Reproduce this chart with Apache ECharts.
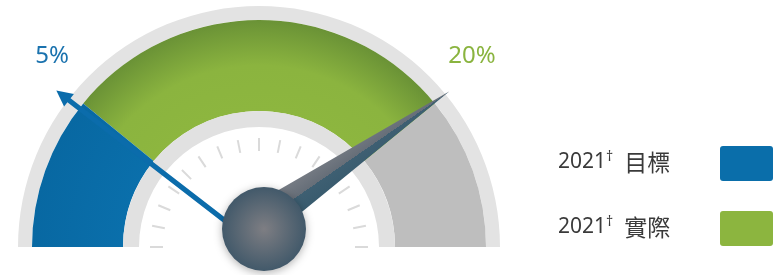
<!DOCTYPE html>
<html>
<head>
<meta charset="utf-8">
<script src="https://cdn.jsdelivr.net/npm/echarts@6/dist/echarts.min.js"></script>
<style>
  html, body { margin: 0; padding: 0; background: #fff; }
  #chart { width: 783px; height: 275px; }
</style>
</head>
<body>
<div id="chart"></div>
<script>
// == Data ====================================================================

const seriesNames = ['2021† 目標', '2021† 實際']
const legendYears = ['2021', '2021']
const legendLabels = ['目標', '實際']
const targetValue = [5]
const actualValue = [20]
const scaleMin = -0.8
const scaleMax = 25.8

// == Styles ==================================================================

const BLUE = '#0a6eaa'
const GREEN = '#8cb53f'
const GREY = '#bebebe'
const FONT = '"Noto Sans", "Noto Sans CJK TC", sans-serif'
const CJK = '"Noto Sans CJK TC", "Noto Sans", sans-serif'
const CX = 259
const CY = 247

const pos = v => (v - scaleMin) / (scaleMax - scaleMin)

// arrow and needle shapes (tiny corner specks keep the path box symmetric)
const ARROW = 'path://M13 0 L21.4 15.8 L16 15.9 L22.6 256 L17.4 256 L10.8 16.1 L5.4 16.2 Z' +
  ' M0 256 L0.05 256 L0 255.95 Z M40 0 L39.95 0 L40 0.05 Z'
const NEEDLE = 'path://M40 0 L40 246 L0 246 Z M80 246 L79.95 246 L80 245.95 Z M0 0 L0.05 0 L0 0.05 Z'

const greenFill = {
  type: 'radial', x: CX, y: CY, r: 227, global: true,
  colorStops: [
    {offset: 0.6, color: '#8db63f'},
    {offset: 0.8, color: '#8bb43f'},
    {offset: 1, color: '#6a9236'}
  ]
}
const blueFill = {
  type: 'radial', x: CX, y: CY, r: 227, global: true,
  colorStops: [
    {offset: 0.6, color: '#0a6fab'},
    {offset: 1, color: '#0868a2'}
  ]
}

const hidden = {
  axisLine: {show: false},
  axisTick: {show: false},
  splitLine: {show: false},
  axisLabel: {show: false},
  pointer: {show: false},
  anchor: {show: false},
  title: {show: false},
  detail: {show: false}
}

const base = {
  type: 'gauge',
  center: [CX, CY],
  startAngle: 180,
  endAngle: 0,
  min: scaleMin,
  max: scaleMax,
  silent: true
}

const chart = echarts.init(document.getElementById('chart'))

chart.setOption({
  animation: false,
  series: [
    // outer rim
    Object.assign({}, base, hidden, {
      radius: 241,
      axisLine: {show: true, lineStyle: {width: 14, color: [[1, '#e3e3e3']]}},
      data: [{value: scaleMin}]
    }),
    // coloured band
    Object.assign({}, base, hidden, {
      radius: 227,
      axisLine: {
        show: true,
        lineStyle: {
          width: 91,
          color: [[pos(targetValue[0]), blueFill], [pos(actualValue[0]), greenFill], [1, GREY]]
        }
      },
      data: [{value: scaleMin}]
    }),
    // inner ring + dial ticks
    Object.assign({}, base, hidden, {
      radius: 136,
      splitNumber: 16,
      axisLine: {show: true, lineStyle: {width: 16, color: [[1, '#e1e1e1']]}},
      splitLine: {show: true, length: 13, distance: 11, lineStyle: {color: '#dadada', width: 2}},
      data: [{value: scaleMin}]
    }),
    // target arrow
    Object.assign({}, base, hidden, {
      name: seriesNames[0],
      radius: 240,
      pointer: {
        show: true,
        icon: ARROW,
        length: 256,
        width: 40,
        keepAspect: false,
        itemStyle: {color: '#0b6cab'}
      },
      detail: {
        show: true,
        formatter: '{value}%',
        offsetCenter: [-207, -191],
        color: '#1a72ae',
        fontSize: 24,
        fontWeight: 'normal',
        fontFamily: FONT
      },
      data: [{value: targetValue[0]}]
    }),
    // actual needle + knob
    Object.assign({}, base, hidden, {
      name: seriesNames[1],
      radius: 240,
      pointer: {
        show: true,
        icon: NEEDLE,
        length: 246,
        width: 80,
        keepAspect: false,
        itemStyle: {
          color: {
            type: 'linear', x: 0, y: 0, x2: 1, y2: 0.0264,
            colorStops: [
              {offset: 0, color: '#8e9096'},
              {offset: 0.497, color: '#666e78'},
              {offset: 0.497, color: '#3e5f72'},
              {offset: 1, color: '#2f5467'}
            ]
          }
        }
      },
      anchor: {
        show: true,
        showAbove: true,
        size: 84,
        offsetCenter: [5, -18],
        itemStyle: {
          color: {
            type: 'radial', x: 0.5, y: 0.5, r: 0.5,
            colorStops: [
              {offset: 0, color: '#7e7e83'},
              {offset: 1, color: '#42596a'}
            ]
          },
          shadowBlur: 8,
          shadowColor: 'rgba(0,0,0,0.3)',
          shadowOffsetY: 2
        }
      },
      detail: {
        show: true,
        formatter: '{value}%',
        offsetCenter: [213, -191],
        color: '#8ab43f',
        fontSize: 24,
        fontWeight: 'normal',
        fontFamily: FONT
      },
      data: [{value: actualValue[0]}]
    })
  ],
  // legend, right hand side
  graphic: seriesNames.map((name, i) => [
    {
      type: 'text',
      left: 558,
      top: 150 + i * 65,
      style: {
        text: '{y|' + legendYears[i] + '}{s|†}{c|' + legendLabels[i] + '}',
        fill: '#3a3a3a',
        rich: {
          y: {fontSize: 21, fontFamily: FONT, fill: '#3a3a3a'},
          s: {fontSize: 14, fontFamily: FONT, fill: '#3a3a3a', padding: [0, 11, 10, 0]},
          c: {fontSize: 23, fontFamily: CJK, fill: '#3a3a3a'}
        }
      }
    },
    {
      type: 'rect',
      left: 720,
      top: 146 + i * 65,
      shape: {width: 53, height: 35, r: 3},
      style: {fill: i === 0 ? BLUE : GREEN}
    }
  ]).flat()
})
</script>
</body>
</html>
